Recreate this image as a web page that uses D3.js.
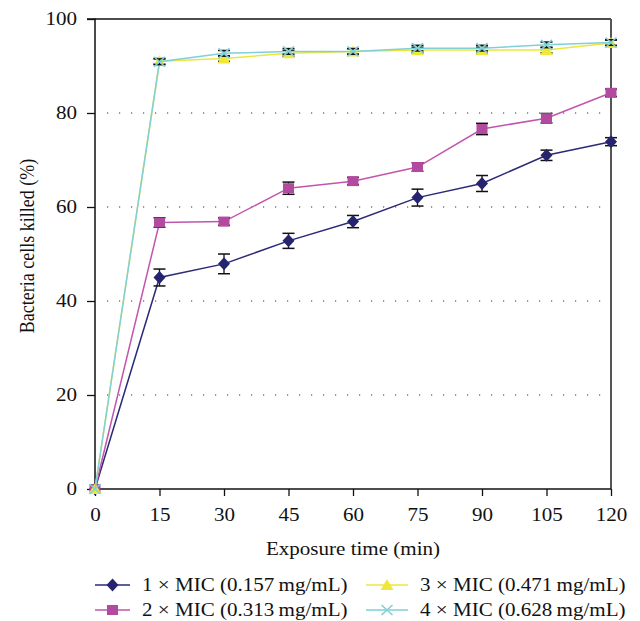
<!DOCTYPE html>
<html>
<head>
<meta charset="utf-8">
<script src="https://cdn.jsdelivr.net/npm/d3@7"></script>
<style>
  body { margin: 0; background: #fff; }
  text { font-family: "Liberation Serif", "DejaVu Serif", serif; fill: #111; }
</style>
</head>
<body>
<svg width="640" height="621"></svg>
<script>
// dati
const times = [0, 15, 30, 45, 60, 75, 90, 105, 120];
const mic1 = [0, 45.0, 47.9, 52.8, 56.9, 62.0, 65.0, 71.0, 73.9];
const mic1Err = [0, 1.8, 2.1, 1.6, 1.3, 1.8, 1.7, 1.1, 0.85];
const mic2 = [0, 56.7, 56.9, 64.0, 65.5, 68.5, 76.6, 78.9, 84.3];
const mic2Err = [0, 1.0, 0.8, 1.3, 0.8, 0.9, 1.2, 1.0, 0.8];
const mic3 = [0, 91.0, 91.6, 92.7, 93.1, 93.4, 93.4, 93.4, 94.9];
const mic3Err = [0, 0.6, 0.6, 0.6, 0.6, 0.6, 0.6, 0.6, 0.6];
const mic4 = [0, 90.9, 92.7, 93.1, 93.1, 93.8, 93.8, 94.5, 95.0];
const mic4Err = [0, 0.6, 0.6, 0.6, 0.6, 0.6, 0.6, 0.6, 0.6];
const seriesNames = [
  "1 × MIC (0.157\u2009mg/mL)",
  "2 × MIC (0.313\u2009mg/mL)",
  "3 × MIC (0.471\u2009mg/mL)",
  "4 × MIC (0.628\u2009mg/mL)"
];
const yTicks = [0, 20, 40, 60, 80, 100];
const gridTicks = [20, 40, 60, 80];

const svg = d3.select("svg");

const mLeft = 95, mRight = 611, mTop = 19, mBottom = 489;
// il testo originale è un po' allargato in orizzontale
const stretch = 1.17;

const x = d3.scaleLinear().domain([0, 120]).range([mLeft, mRight]);
const y = d3.scaleLinear().domain([0, 100]).range([mBottom, mTop]);

const series = [
  { name: seriesNames[0], values: mic1, err: mic1Err, line: "#2b2a78", fill: "#26246e", shape: "diamond" },
  { name: seriesNames[1], values: mic2, err: mic2Err, line: "#c255ad", fill: "#b24aa0", shape: "square" },
  { name: seriesNames[2], values: mic3, err: mic3Err, line: "#ece73c", fill: "#efe83a", shape: "triangle" },
  { name: seriesNames[3], values: mic4, err: mic4Err, line: "#7fd0d8", fill: "#7fd0d8", shape: "cross" }
];

// griglia punteggiata
svg.append("g")
  .selectAll("line")
  .data(gridTicks)
  .join("line")
  .attr("x1", mLeft + 12)
  .attr("x2", mRight - 6)
  .attr("y1", d => y(d))
  .attr("y2", d => y(d))
  .attr("stroke", "#333")
  .attr("stroke-width", 1.2)
  .attr("stroke-dasharray", "1.2,10.8");

// cornice: alto e destra
svg.append("line")
  .attr("x1", mLeft).attr("x2", mRight)
  .attr("y1", mTop).attr("y2", mTop)
  .attr("stroke", "#111").attr("stroke-width", 1.5);
svg.append("line")
  .attr("x1", mRight).attr("x2", mRight)
  .attr("y1", mTop).attr("y2", mBottom)
  .attr("stroke", "#555").attr("stroke-width", 2);

// assi
const xAxis = d3.axisBottom(x).tickValues(times).tickSize(7).tickPadding(12);
const gx = svg.append("g").attr("transform", `translate(0, ${mBottom})`).call(xAxis);
const yAxis = d3.axisLeft(y).tickValues(yTicks).tickSize(8).tickPadding(10);
const gy = svg.append("g").attr("transform", `translate(${mLeft}, 0)`).call(yAxis);

[gx, gy].forEach(g => {
  g.select(".domain").attr("stroke", "#111").attr("stroke-width", 1.5);
  g.selectAll(".tick line").attr("stroke", "#111").attr("stroke-width", 1.3);
  g.selectAll(".tick text")
    .attr("font-family", "Liberation Serif, serif")
    .attr("font-size", 18)
    .attr("fill", "#111")
    .attr("transform", `scale(${stretch},1)`);
});
gy.selectAll(".tick text").attr("x", -18 / stretch);
gy.select(".domain").attr("d", `M-8,${mTop}H0V${mBottom}`);
gx.select(".domain").attr("d", `M${mLeft},0H${mRight}`);

// titoli assi
svg.append("text")
  .attr("transform", `translate(${(mLeft + mRight) / 2}, 555) scale(${stretch},1)`)
  .attr("text-anchor", "middle")
  .attr("font-size", 18)
  .text("Exposure time (min)");

svg.append("text")
  .attr("transform", `translate(34, 246) scale(${stretch},1) rotate(-90)`)
  .attr("text-anchor", "middle")
  .attr("font-size", 18)
  .text("Bacteria cells killed (%)");

// forme dei marcatori
function marker(sel, s) {
  if (s.shape === "diamond") {
    sel.append("path").attr("d", "M0,-6.5L6,0L0,6.5L-6,0Z").attr("fill", s.fill);
  } else if (s.shape === "square") {
    sel.append("rect").attr("x", -5.5).attr("y", -5)
      .attr("width", 11).attr("height", 10).attr("fill", s.fill);
  } else if (s.shape === "triangle") {
    sel.append("path").attr("d", "M0,-6L6.5,5L-6.5,5Z").attr("fill", s.fill);
  } else {
    sel.append("path").attr("d", "M-5.5,-5L5.5,5M-5.5,5L5.5,-5")
      .attr("stroke", s.fill).attr("stroke-width", 1.6).attr("fill", "none");
  }
}

const line = d3.line().x((d, i) => x(times[i])).y(d => y(d));

series.forEach(s => {
  const g = svg.append("g");
  g.append("path")
    .datum(s.values)
    .attr("d", line)
    .attr("fill", "none")
    .attr("stroke", s.line)
    .attr("stroke-width", 1.5);

  // barre di errore
  const eb = g.selectAll(".err")
    .data(s.values.map((v, i) => ({ t: times[i], v, e: s.err[i] })).filter(d => d.e > 0))
    .join("g")
    .attr("class", "err");
  eb.append("line")
    .attr("x1", d => x(d.t)).attr("x2", d => x(d.t))
    .attr("y1", d => y(d.v - d.e)).attr("y2", d => y(d.v + d.e))
    .attr("stroke", "#111").attr("stroke-width", 1.3);
  eb.selectAll(".cap")
    .data(d => [d.v - d.e, d.v + d.e].map(c => ({ t: d.t, c })))
    .join("line")
    .attr("x1", d => x(d.t) - 6).attr("x2", d => x(d.t) + 6)
    .attr("y1", d => y(d.c)).attr("y2", d => y(d.c))
    .attr("stroke", "#111").attr("stroke-width", 1.5);

  g.selectAll(".pt")
    .data(s.values)
    .join("g")
    .attr("class", "pt")
    .attr("transform", (d, i) => `translate(${x(times[i])}, ${y(d)})`)
    .each(function() { marker(d3.select(this), s); });
});

// legenda
const legendPos = [
  { x: 95, y: 585, w: 35 },
  { x: 95, y: 610, w: 35 },
  { x: 366, y: 585, w: 42 },
  { x: 366, y: 610, w: 42 }
];
series.forEach((s, i) => {
  const p = legendPos[i];
  const g = svg.append("g").attr("transform", `translate(${p.x}, ${p.y})`);
  g.append("line").attr("x1", 0).attr("x2", p.w).attr("y1", 0).attr("y2", 0)
    .attr("stroke", s.line).attr("stroke-width", 1.5);
  const m = g.append("g").attr("transform", `translate(${p.w / 2}, 0)`);
  marker(m, s);
  g.append("text")
    .attr("transform", `translate(${p.w + 12}, 6) scale(${stretch},1)`)
    .attr("font-size", 18)
    .text(s.name);
});
</script>
</body>
</html>
